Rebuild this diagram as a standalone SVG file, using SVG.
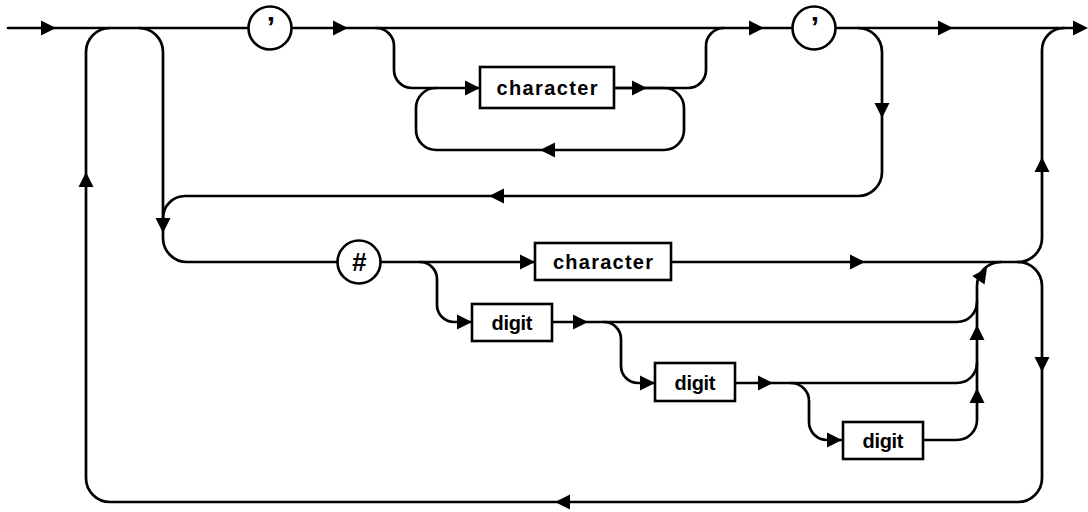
<svg xmlns="http://www.w3.org/2000/svg" xmlns:xlink="http://www.w3.org/1999/xlink" width="1088" height="512" viewBox="0 0 1088 512">
<style>
.ln{fill:none;stroke:#000;stroke-width:2.7;stroke-linecap:round;stroke-linejoin:round}
.bx{fill:#fff;stroke:#000;stroke-width:2.6}
.lb{font-family:"Liberation Sans",Arial,sans-serif;font-size:20px;font-weight:bold;text-anchor:middle;fill:#000}
.sy{font-family:"Liberation Sans",Arial,sans-serif;font-weight:bold;text-anchor:middle;fill:#000}
</style>
<defs>
<path id="ar" d="M0,0 L-15,-7.5 L-15,7.5 Z" fill="#000"/>
</defs>
<rect width="1088" height="512" fill="#fff"/>
<g id="connectors">
<path class="ln" d="M8,28 H1075"/>
<path class="ln" d="M1018,262 A24,24 0 0 1 1042,286 V478 A24,24 0 0 1 1018,502 H110 A24,24 0 0 1 86,478 V52 A24,24 0 0 1 110,28"/>
<path class="ln" d="M139,28 A24,24 0 0 1 163,52 V238 A24,24 0 0 0 187,262 H338"/>
<path class="ln" d="M858,28 A24,24 0 0 1 882,52 V172 A24,24 0 0 1 858,196 H185 A22,22 0 0 0 163,218"/>
<path class="ln" d="M380,262 H535"/>
<path class="ln" d="M376,28 A18,18 0 0 1 394,46 V70 A18,18 0 0 0 412,88 H480"/>
<path class="ln" d="M614,88 H664 A20,20 0 0 1 684,108 V130 A20,20 0 0 1 664,150 H436 A20,20 0 0 1 416,130 V108 A20,20 0 0 1 436,88"/>
<path class="ln" d="M614,88 H688 A18,18 0 0 0 706,70 V46 A18,18 0 0 1 724,28"/>
<path class="ln" d="M1018,262 A24,24 0 0 0 1042,238 V50 A22,22 0 0 1 1064,28"/>
<path class="ln" d="M671,262 H1018"/>
<path class="ln" d="M420,262 A17,17 0 0 1 437,279 V305 A17,17 0 0 0 454,322 H472"/>
<path class="ln" d="M552,322 H957 A20,20 0 0 0 977,302"/>
<path class="ln" d="M735,383 H957 A20,20 0 0 0 977,363"/>
<path class="ln" d="M923,440 H957 A20,20 0 0 0 977,420 V286 A24,24 0 0 1 1001,262"/>
<path class="ln" d="M604,322 A17,17 0 0 1 621,339 V366 A17,17 0 0 0 638,383 H655"/>
<path class="ln" d="M791,383 A18,18 0 0 1 809,401 V422 A18,18 0 0 0 827,440 H843"/>
<use xlink:href="#ar" transform="translate(56,28)"/>
<use xlink:href="#ar" transform="translate(348,28)"/>
<use xlink:href="#ar" transform="translate(764,28)"/>
<use xlink:href="#ar" transform="translate(953,28)"/>
<use xlink:href="#ar" transform="translate(1088,28)"/>
<use xlink:href="#ar" transform="translate(480,88)"/>
<use xlink:href="#ar" transform="translate(647,88)"/>
<use xlink:href="#ar" transform="translate(540,150) rotate(180)"/>
<use xlink:href="#ar" transform="translate(882,118) rotate(90)"/>
<use xlink:href="#ar" transform="translate(489,196) rotate(180)"/>
<use xlink:href="#ar" transform="translate(163,233) rotate(90)"/>
<use xlink:href="#ar" transform="translate(86,172) rotate(-90)"/>
<use xlink:href="#ar" transform="translate(1042,157) rotate(-90)"/>
<use xlink:href="#ar" transform="translate(1042,372) rotate(90)"/>
<use xlink:href="#ar" transform="translate(555,502) rotate(180)"/>
<use xlink:href="#ar" transform="translate(535,262)"/>
<use xlink:href="#ar" transform="translate(865,262)"/>
<use xlink:href="#ar" transform="translate(472,322)"/>
<use xlink:href="#ar" transform="translate(588,322)"/>
<use xlink:href="#ar" transform="translate(655,383)"/>
<use xlink:href="#ar" transform="translate(773,383)"/>
<use xlink:href="#ar" transform="translate(842,440)"/>
<use xlink:href="#ar" transform="translate(977,325) rotate(-90)"/>
<use xlink:href="#ar" transform="translate(977,388) rotate(-90)"/>
<use xlink:href="#ar" transform="translate(987,268) rotate(-55)"/>
</g>
<g id="quote1">
<circle class="bx" cx="270" cy="28" r="21.5"/>
<text class="sy" x="271" y="37" font-size="30">’</text>
</g>
<g id="quote2">
<circle class="bx" cx="814" cy="28" r="21.5"/>
<text class="sy" x="815" y="37" font-size="30">’</text>
</g>
<g id="hash">
<circle class="bx" cx="359" cy="262" r="21.5"/>
<text class="sy" x="359" y="271" font-size="26" font-style="italic">#</text>
</g>
<g id="character1">
<rect class="bx" x="480" y="67" width="134" height="41"/>
<text class="lb" x="547" y="95" textLength="101" lengthAdjust="spacing">character</text>
</g>
<g id="character2">
<rect class="bx" x="535" y="243" width="136" height="37"/>
<text class="lb" x="603" y="269" textLength="100" lengthAdjust="spacing">character</text>
</g>
<g id="digit1">
<rect class="bx" x="472" y="304" width="80" height="37"/>
<text class="lb" x="512" y="330" textLength="41" lengthAdjust="spacing">digit</text>
</g>
<g id="digit2">
<rect class="bx" x="655" y="363" width="80" height="38"/>
<text class="lb" x="695" y="390" textLength="41" lengthAdjust="spacing">digit</text>
</g>
<g id="digit3">
<rect class="bx" x="843" y="422" width="80" height="37"/>
<text class="lb" x="883" y="448" textLength="41" lengthAdjust="spacing">digit</text>
</g>
</svg>
